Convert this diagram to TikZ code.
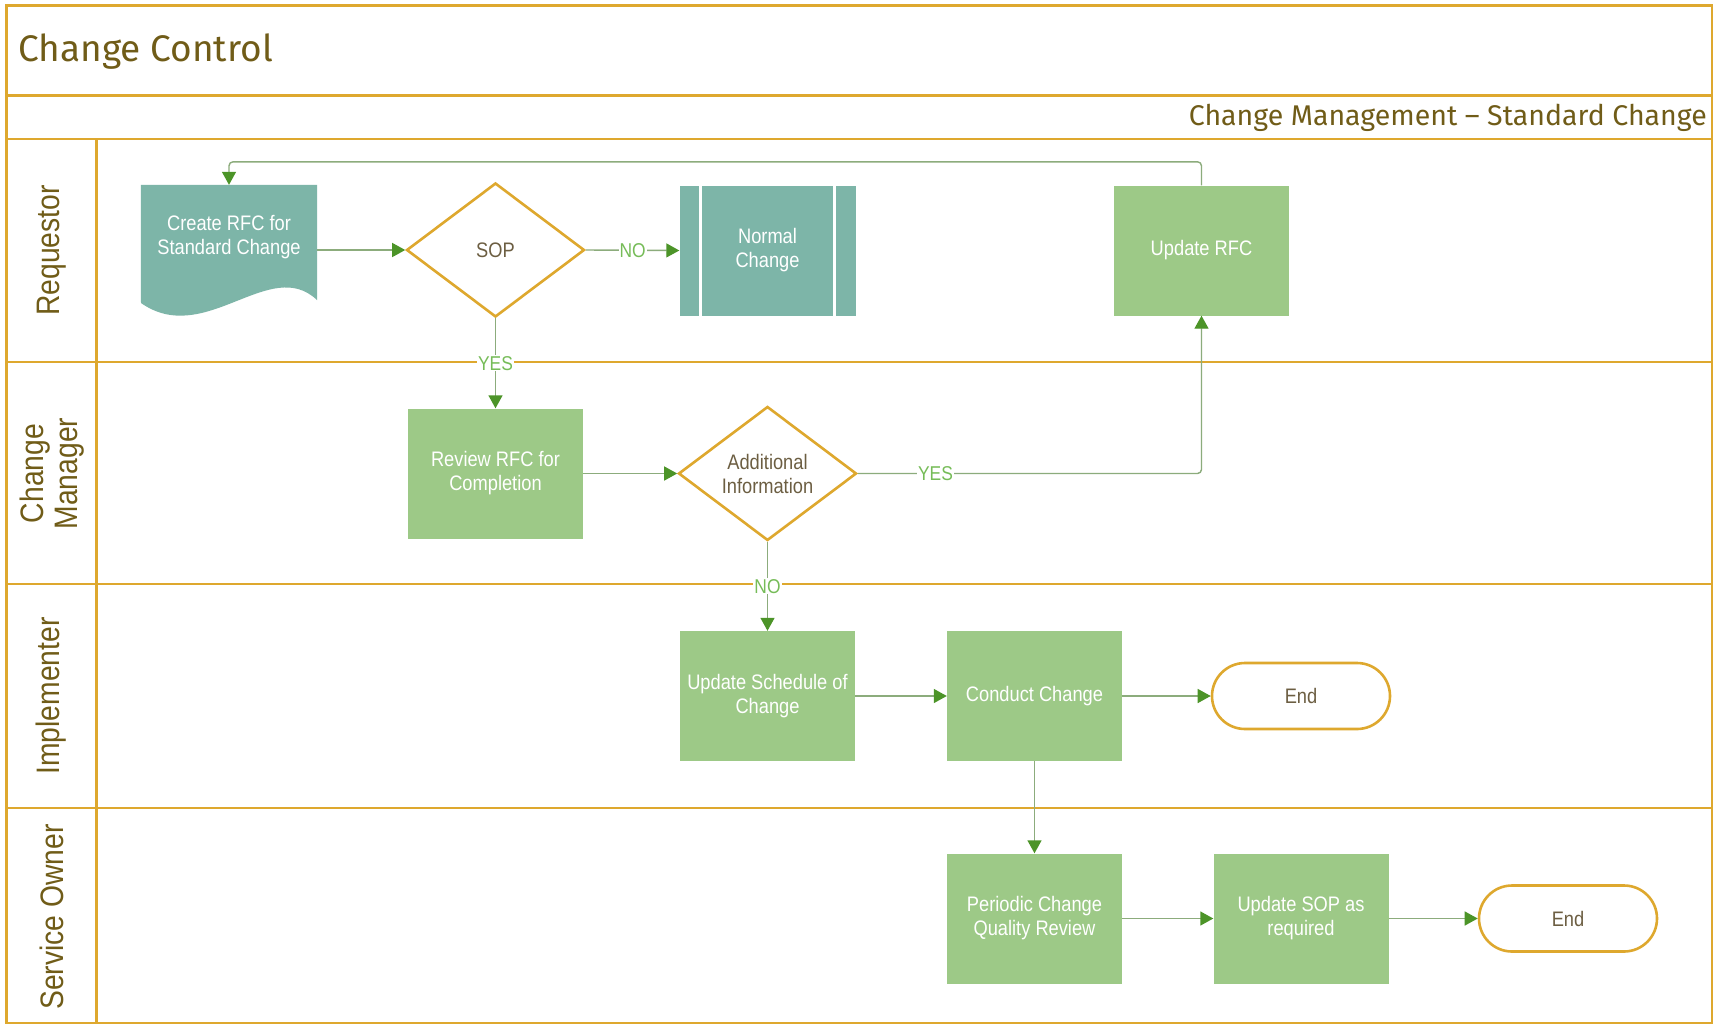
\documentclass[tikz,border=0pt]{standalone}
\usepackage{fontspec}
\setmainfont{Liberation Sans}
\newfontfamily\nodefont{Liberation Sans}[FakeStretch=0.87]
\newfontfamily\headfont{Fira Sans}
\usetikzlibrary{shapes.geometric,shapes.misc,arrows.meta,calc}
\pgfdeclarelayer{background}
\pgfdeclarelayer{canvas}
\pgfsetlayers{canvas,background,main}
\definecolor{laneGold}{RGB}{222,168,46}
\definecolor{titleBrown}{RGB}{112,92,24}
\definecolor{boxGreen}{RGB}{157,201,135}
\definecolor{teal}{RGB}{125,181,168}
\definecolor{lineGreen}{RGB}{140,172,124}
\definecolor{tipGreen}{RGB}{76,148,40}
\definecolor{lblGreen}{RGB}{118,188,88}
\definecolor{diaText}{RGB}{108,94,66}
\begin{document}
\begin{tikzpicture}[x=1pt,y=-1pt,
  lane/.style={draw=laneGold,line width=2.6pt},
  nodetext/.style={font=\nodefont\fontsize{21}{24}\selectfont,align=center,inner sep=0pt},
  proc/.style={nodetext,rectangle,fill=boxGreen,text=white,minimum width=175pt,minimum height=130pt},
  tealbox/.style={nodetext,rectangle,fill=teal,text=white,minimum width=176pt,minimum height=130pt},
  docbox/.style={nodetext,rectangle,text=white,minimum width=176pt,minimum height=100pt},
  decision/.style={nodetext,diamond,draw=laneGold,line width=2.6pt,fill=white,text=diaText,aspect=1.33,minimum width=178pt,minimum height=134pt},
  terminal/.style={nodetext,rounded rectangle,draw=laneGold,line width=2.6pt,fill=white,text=diaText,minimum width=178pt,minimum height=66pt},
  conn/.style={draw=lineGreen,line width=1.4pt,-{Triangle[length=13pt,width=14pt,color=tipGreen,fill=tipGreen]}},
  lbl/.style={font=\nodefont\fontsize{20}{22}\selectfont,text=lblGreen,fill=white,inner sep=1pt},
  lanelabel/.style={font=\nodefont\fontsize{32.5}{34}\selectfont,text=titleBrown,align=center,rotate=90,inner sep=0pt}
]
\useasboundingbox (0,0) rectangle (1719,1026);
\begin{pgfonlayer}{canvas}
\fill[white] (0,0) rectangle (1719,1026);
\end{pgfonlayer}

% frame and lanes
\draw[lane] (6.5,5.5) rectangle (1712,1023);
\draw[lane] (6.5,95.5) -- (1712,95.5);
\draw[lane] (6.5,139) -- (1712,139);
\draw[lane] (6.5,362) -- (1712,362);
\draw[lane] (6.5,584) -- (1712,584);
\draw[lane] (6.5,808) -- (1712,808);
\draw[lane] (96.5,139) -- (96.5,1023);

\node[anchor=west,font=\headfont\fontsize{37}{40}\selectfont,text=titleBrown,inner sep=0pt] (title) at (18,52) {Change Control};
\node[anchor=east,font=\headfont\fontsize{28.5}{31}\selectfont,text=titleBrown,inner sep=0pt] (subtitle) at (1707,118) {Change Management – Standard Change};

\node[lanelabel] (lreq) at (51.5,250.5) {Requestor};
\node[lanelabel] (lcm) at (52.5,473.5) {Change\\Manager};
\node[lanelabel] (limp) at (51.5,696) {Implementer};
\node[lanelabel] (lso) at (51.5,917) {Service Owner};

% nodes
\node[docbox] (create) at (229,237) {Create RFC for\\Standard Change};
\begin{pgfonlayer}{background}
\fill[teal] ($(create.north west)+(0,-2)$) -- ($(create.north east)+(0,-2)$) -- ($(create.south east)+(0,13)$)
  .. controls (270,255) and (205,348) .. (141,303) -- cycle;
\end{pgfonlayer}
\node[decision] (sop) at (495.5,250) {SOP};
\node[tealbox] (normal) at (767.5,250.5) {Normal\\Change};
\draw[white,line width=2.5pt] ($(normal.north west)+(21,0)$) -- ($(normal.south west)+(21,0)$);
\draw[white,line width=2.5pt] ($(normal.north east)+(-21,0)$) -- ($(normal.south east)+(-21,0)$);
\node[proc] (updrfc) at (1201.5,250.5) {Update RFC};
\node[proc] (review) at (495.5,473.5) {Review RFC for\\Completion};
\node[decision] (addinfo) at (767.5,473.5) {Additional\\Information};
\node[proc] (updsched) at (767.5,696) {Update Schedule of\\Change};
\node[proc] (conduct) at (1034.5,696) {Conduct Change};
\node[terminal] (end1) at (1301,696) {End};
\node[proc] (periodic) at (1034.5,918.5) {Periodic Change\\Quality Review};
\node[proc] (updsop) at (1301,918.5) {Update SOP as\\required};
\node[terminal] (end2) at (1568,918.5) {End};

% connectors
\draw[conn] (create.east |- sop.west) -- (sop.west);
\draw[conn] (sop.east) -- node[lbl]{NO} (normal.west);
\draw[conn] (sop.south) -- node[lbl]{YES} (review.north);
\draw[conn] (review.east) -- (addinfo.west);
\draw[conn,rounded corners=4pt] (addinfo.east) -| node[lbl,pos=0.113]{YES} (updrfc.south);
\draw[conn] (addinfo.south) -- node[lbl]{NO} (updsched.north);
\draw[conn,rounded corners=4pt] (updrfc.north) -- ++(0,-23.5) -| ($(create.north)+(0,-2)$);
\draw[conn] (updsched.east) -- (conduct.west);
\draw[conn] (conduct.east) -- (end1.west);
\draw[conn] (conduct.south) -- (periodic.north);
\draw[conn] (periodic.east) -- (updsop.west);
\draw[conn] (updsop.east) -- (end2.west);
\end{tikzpicture}
\end{document}
